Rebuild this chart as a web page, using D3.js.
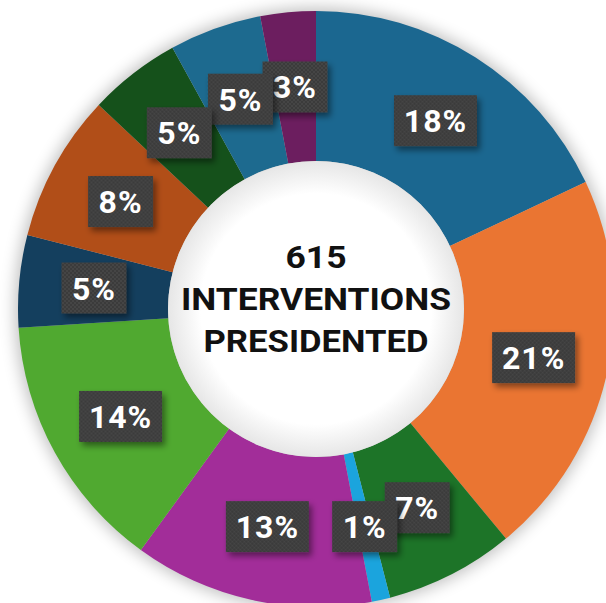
<!DOCTYPE html>
<html>
<head>
<meta charset="utf-8">
<script src="https://cdn.jsdelivr.net/npm/d3@7"></script>
<style>
  html, body { margin: 0; padding: 0; background: #ffffff; }
  svg { display: block; }
</style>
</head>
<body>
<svg id="chart" width="606" height="603"></svg>
<script>
// Share of interventions by category, clockwise from 12 o'clock
const categories = [
  "Category A", "Category B", "Category C", "Category D", "Category E", "Category F",
  "Category G", "Category H", "Category I", "Category J", "Category K"
];
const shares = [18, 21, 7, 1, 13, 14, 5, 8, 5, 5, 3];
const sliceColors = [
  "#1b6790", "#ea7532", "#1d7428", "#1ba4dd", "#a22d99", "#50a930",
  "#143f5e", "#b14e18", "#15511b", "#1d6a8f", "#6c1e5f"
];
const centerLines = ["615", "INTERVENTIONS", "PRESIDENTED"];

const width = 606, height = 603;
const cx = 316, cy = 309;
const outerR = 298, innerR = 148;

const svg = d3.select("#chart");
const defs = svg.append("defs");

// soft halo around the ring
const halo = defs.append("filter").attr("id", "halo")
  .attr("x", "-20%").attr("y", "-20%").attr("width", "140%").attr("height", "140%");
halo.append("feGaussianBlur").attr("stdDeviation", 8);

// drop shadow under label boxes
const drop = defs.append("filter").attr("id", "drop")
  .attr("x", "-30%").attr("y", "-30%").attr("width", "170%").attr("height", "170%");
drop.append("feDropShadow").attr("dx", 3).attr("dy", 4).attr("stdDeviation", 3)
  .attr("flood-color", "#000").attr("flood-opacity", 0.45);

// fine checker texture for label boxes
const pat = defs.append("pattern").attr("id", "checker")
  .attr("width", 4).attr("height", 4).attr("patternUnits", "userSpaceOnUse");
pat.append("rect").attr("width", 4).attr("height", 4).attr("fill", "#444444");
pat.append("rect").attr("width", 2).attr("height", 2).attr("fill", "#3b3b3b");
pat.append("rect").attr("x", 2).attr("y", 2).attr("width", 2).attr("height", 2).attr("fill", "#3b3b3b");

// slight shading toward the edge of the hole
const holeGrad = defs.append("radialGradient").attr("id", "hole");
holeGrad.append("stop").attr("offset", "78%").attr("stop-color", "#ffffff");
holeGrad.append("stop").attr("offset", "100%").attr("stop-color", "#e6e6e6");

const g = svg.append("g").attr("transform", `translate(${cx},${cy})`);

g.append("circle").attr("r", outerR + 3)
  .attr("fill", "#000").attr("opacity", 0.25).attr("filter", "url(#halo)");

const data = categories.map((c, i) => ({ name: c, value: shares[i], color: sliceColors[i] }));

const pie = d3.pie().value(d => d.value).sort(null);
const arcs = pie(data);

const arc = d3.arc().innerRadius(innerR).outerRadius(outerR);

g.selectAll("path.slice")
  .data(arcs)
  .join("path")
  .attr("class", "slice")
  .attr("d", arc)
  .attr("fill", d => d.data.color);

g.append("circle").attr("r", innerR).attr("fill", "url(#hole)");

// centre caption
const lineBaselines = [-41, 1, 43];
const lineLengths = [61, 270, 225];
g.selectAll("text.center")
  .data(centerLines)
  .join("text")
  .attr("class", "center")
  .attr("x", 0)
  .attr("y", (d, i) => lineBaselines[i])
  .attr("text-anchor", "middle")
  .attr("textLength", (d, i) => lineLengths[i])
  .attr("lengthAdjust", "spacingAndGlyphs")
  .style("font-family", "Roboto, 'Noto Sans', sans-serif")
  .style("font-weight", 700)
  .style("font-size", "31px")
  .attr("fill", "#111")
  .text(d => d);

// percentage labels at the ring's mid radius; lower boxes sit on top
const labelArc = d3.arc().innerRadius(innerR).outerRadius(outerR);
const labelData = arcs.map(a => {
  const [x, y] = labelArc.centroid(a);
  return { x, y, text: a.data.value + "%" };
}).sort((a, b) => a.y - b.y);

const labels = g.selectAll("g.label")
  .data(labelData)
  .join("g")
  .attr("class", "label")
  .attr("transform", d => `translate(${d.x},${d.y})`);

labels.append("rect")
  .attr("x", d => -(d.text.length > 2 ? 83 : 65) / 2)
  .attr("y", -25.5)
  .attr("width", d => d.text.length > 2 ? 83 : 65)
  .attr("height", 51)
  .attr("fill", "url(#checker)")
  .attr("filter", "url(#drop)");

labels.append("text")
  .attr("text-anchor", "middle")
  .attr("y", 11.5)
  .style("font-family", "Roboto, 'Noto Sans', sans-serif")
  .style("font-weight", 700)
  .style("font-size", "32px")
  .style("letter-spacing", "1px")
  .attr("fill", "#ffffff")
  .text(d => d.text);
</script>
</body>
</html>
